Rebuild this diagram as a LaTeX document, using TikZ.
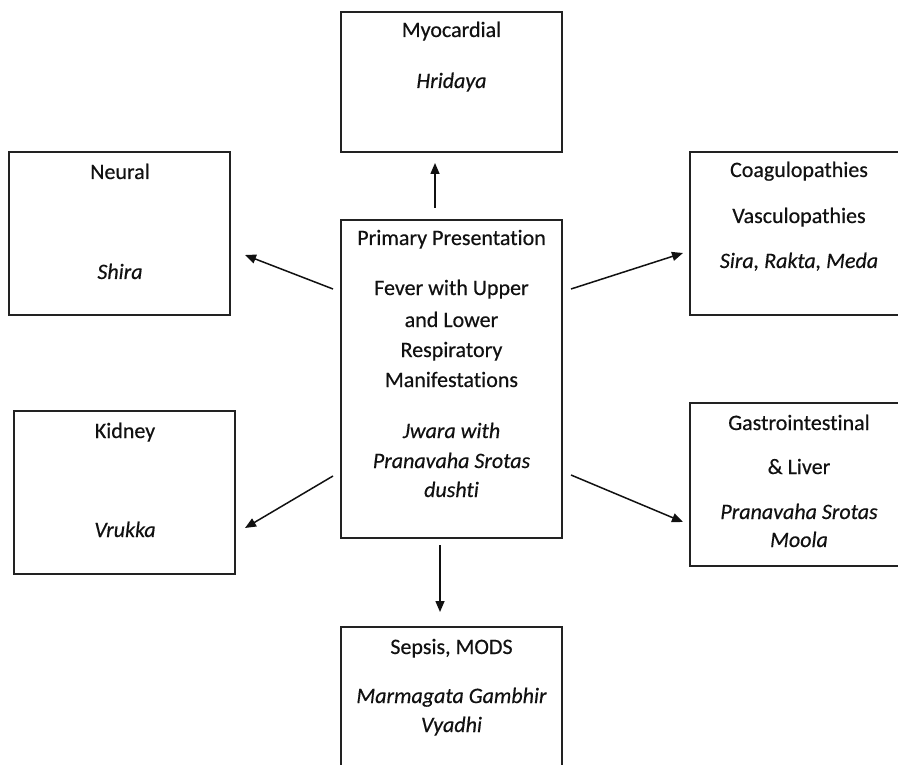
\documentclass[tikz,border=0pt]{standalone}
\usepackage{fontspec}
\setmainfont[Ligatures={NoCommon}, FakeBold=0.4]{Carlito}
\usepackage{tikz}
\usetikzlibrary{arrows.meta, calc}
\definecolor{ink}{HTML}{111111}
\definecolor{frame}{HTML}{222222}

\tikzset{
    box/.style={draw=frame, line width=1.7pt, rectangle, anchor=north west,
        inner sep=0pt, outer sep=0pt},
    lbl/.style={anchor=base, inner sep=0pt, text=ink},
    ital/.style={lbl, font=\fontsize{22}{30.5}\selectfont\itshape},
    arr/.style={draw=ink, line width=1.5pt, -{Triangle[length=11pt, width=9pt]}}
}

\begin{document}
\begin{tikzpicture}[x=1pt, y=-1pt, every node/.style={font=\fontsize{22}{30.5}\selectfont}]
    \clip (0,0) rectangle (898,765);
    \fill[white] (0,0) rectangle (898,765);

    % Kästen
    \node[box, minimum width=221pt, minimum height=140pt] (myo) at (341,12) {};
    \node[box, minimum width=221pt, minimum height=163pt] (neural) at (9,152) {};
    \node[box, minimum width=221pt, minimum height=318pt] (center) at (341,220) {};
    \node[box, minimum width=230pt, minimum height=163pt] (coag) at (690,152) {};
    \node[box, minimum width=221pt, minimum height=163pt] (kidney) at (14,411) {};
    \node[box, minimum width=230pt, minimum height=163pt] (gastro) at (690,403) {};
    \node[box, minimum width=221pt, minimum height=160pt] (sepsis) at (341,627) {};

    % Mitte
    \node[lbl] (cenA) at (451.5,245) {Primary Presentation};
    \node[lbl] (cenB) at (451.5,295) {Fever with Upper};
    \node[lbl] (cenC) at (451.5,327) {and Lower};
    \node[lbl] (cenD) at (451.5,357) {Respiratory};
    \node[lbl] (cenE) at (451.5,387) {Manifestations};
    \node[ital] (cenF) at (451.5,438) {Jwara with};
    \node[ital] (cenG) at (451.5,468) {Pranavaha Srotas};
    \node[ital] (cenH) at (451.5,497) {dushti};

    % oben
    \node[lbl] (myoA) at (451.5,37) {Myocardial};
    \node[ital] (myoB) at (451.5,88) {Hridaya};

    % links
    \node[lbl] (neuA) at (120,179) {Neural};
    \node[ital] (neuB) at (120,279) {Shira};
    \node[lbl] (kidA) at (125,438) {Kidney};
    \node[ital] (kidB) at (125,537) {Vrukka};

    % rechts
    \node[lbl] (coaA) at (799,177) {Coagulopathies};
    \node[lbl] (coaB) at (799,223) {Vasculopathies};
    \node[ital] (coaC) at (799,268) {Sira, Rakta, Meda};
    \node[lbl] (gasA) at (799,430) {Gastrointestinal};
    \node[lbl] (gasB) at (799,474) {\& Liver};
    \node[ital] (gasC) at (799,519) {Pranavaha Srotas};
    \node[ital] (gasD) at (799,547) {Moola};

    % unten
    \node[lbl] (sepA) at (451.5,654) {Sepsis, MODS};
    \node[ital] (sepB) at (451.5,703) {Marmagata Gambhir};
    \node[ital] (sepC) at (451.5,732) {Vyadhi};

    % Pfeile
    \draw[arr] ($(center.north west)+(94,-12)$) -- ($(myo.south west)+(94,11)$);
    \draw[arr] ($(center.north west)+(-8,69)$) -- ($(neural.north east)+(15,103)$);
    \draw[arr] ($(center.north east)+(9,69)$) -- ($(coag.north west)+(-7,101)$);
    \draw[arr] ($(center.north west)+(-8,256)$) -- ($(kidney.north east)+(10,117)$);
    \draw[arr] ($(center.north east)+(9,255)$) -- ($(gastro.north west)+(-7,119)$);
    \draw[arr] ($(center.south west)+(99,7)$) -- ($(sepsis.north west)+(99,-15)$);
\end{tikzpicture}
\end{document}
